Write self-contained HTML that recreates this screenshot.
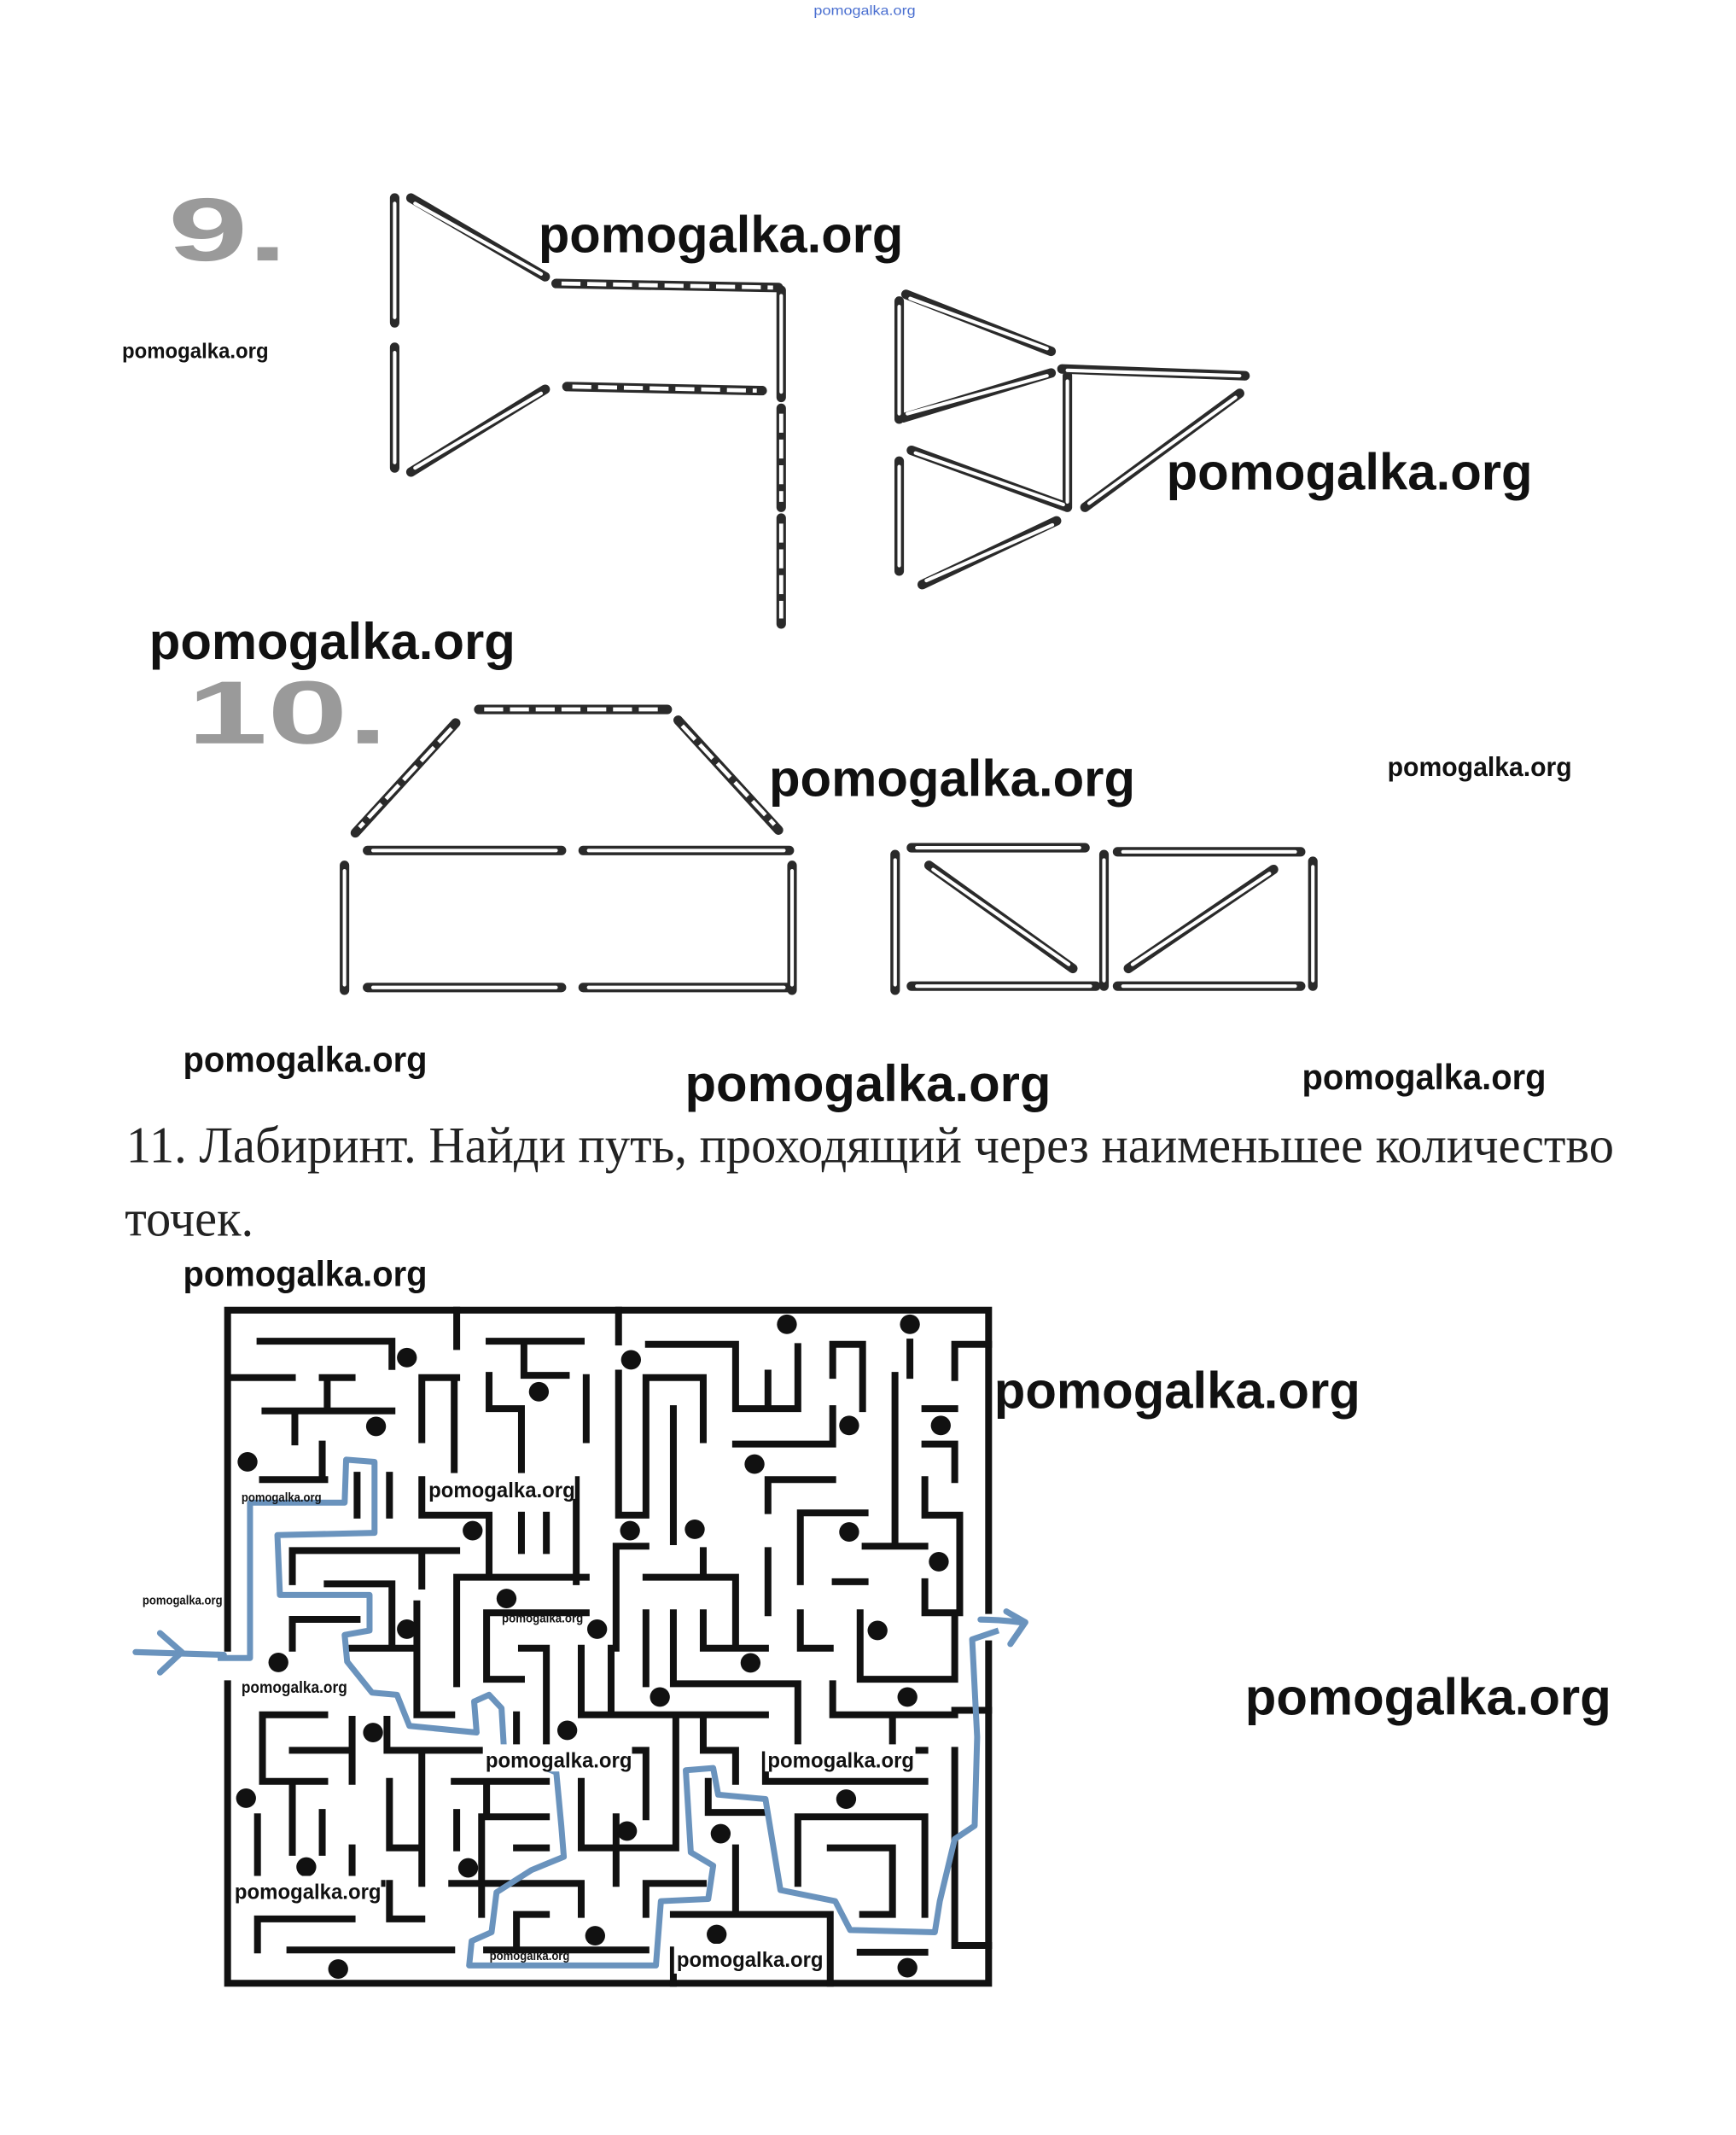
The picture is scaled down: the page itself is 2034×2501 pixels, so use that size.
<!DOCTYPE html>
<html><head><meta charset="utf-8"><style>
html,body{margin:0;padding:0;background:#fff;}
svg{display:block;}
.wm{font-family:"Liberation Sans",sans-serif;font-weight:bold;fill:#111;}
</style></head><body>
<svg width="2034" height="2501" viewBox="0 0 1280 1574" preserveAspectRatio="none" xmlns="http://www.w3.org/2000/svg">
<rect width="1280" height="1574" fill="#fff"/>
<text x="600" y="11" font-family="Liberation Sans,sans-serif" font-size="10" fill="#4a6fd0" textLength="75" lengthAdjust="spacingAndGlyphs">pomogalka.org</text>

<!-- 9. and 10. -->
<text x="124" y="192" font-family="Liberation Sans,sans-serif" font-weight="bold" font-size="66" fill="#9a9a9a" textLength="88" lengthAdjust="spacingAndGlyphs">9.</text>
<text x="138" y="548" font-family="Liberation Sans,sans-serif" font-weight="bold" font-size="66" fill="#9a9a9a" textLength="148" lengthAdjust="spacingAndGlyphs">10.</text>

<!-- matches solid -->
<g stroke-linecap="round" fill="none">
<g stroke="#2a2a2a" stroke-width="7">
<path d="M291 146L291 238M291 256L291 345M303 146L402 204M303 348L402 287M576 214L576 293
M663 222L663 309M663 340L663 421M668 217L775 259M666 308L775 275M672 332L787 374M783 272L918 277M787 277L787 374M800 374L914 290M680 431L779 384
M271 627L414 627M430 627L582 627M271 728L414 728M430 728L582 728M254 638L254 730M584 638L584 730
M672 625L800 625M824 628L959 628M672 727L808 727M824 727L959 727M660 630L660 730M814 630L814 727M968 635L968 727M685 638L791 714M832 714L939 641"/>
</g>
<g stroke="#fff" stroke-width="2.6">
<path d="M291 150L291 234M291 260L291 341M306 150L399 202M306 345L399 290M576 218L576 289
M663 226L663 305M663 344L663 417M671 220L772 257M669 305L772 277M675 334L784 372M787 273L914 277M787 281L787 370M803 371L911 293M683 428L776 387
M275 627L410 627M434 627L578 627M275 728L410 728M434 728L578 728M254 642L254 726M584 642L584 726
M676 625L796 625M828 628L955 628M676 727L804 727M828 727L955 727M660 634L660 726M814 634L814 723M968 639L968 723M688 641L788 711M835 711L936 644"/>
</g>
<!-- dashed -->
<g stroke="#2a2a2a" stroke-width="7">
<path d="M410 209L574 212M418 285L562 288M576 301L576 374M576 382L576 460M353 523L492 523M336 533L262 614M500 531L574 612"/>
</g>
<g stroke="#fff" stroke-width="3" stroke-dasharray="14 5" stroke-linecap="butt">
<path d="M414 209L570 212M422 285L558 288M576 305L576 370M576 386L576 456M357 523L488 523M333 537L265 610M503 535L571 608"/>
</g>
</g>

<!-- heading -->
<text x="93" y="857" font-family="Liberation Serif,serif" font-size="38" fill="#222" textLength="1097" lengthAdjust="spacingAndGlyphs">11. Лабиринт. Найди путь, проходящий через наименьшее количество</text>
<text x="92" y="911" font-family="Liberation Serif,serif" font-size="38" fill="#222" textLength="95" lengthAdjust="spacingAndGlyphs">точек.</text>

<!-- maze -->
<g transform="scale(0.62933) translate(255,1515) scale(0.5835,0.5198)">
<g stroke="#111" stroke-width="8" vector-effect="non-scaling-stroke" fill="none" stroke-linecap="square">
<path vector-effect="non-scaling-stroke" d="M20 800L20 38L1548 38L1548 715M1548 790L1548 1555L20 1555L20 880"/>
<path vector-effect="non-scaling-stroke" d="
M85 108L350 108L350 165M480 38L480 120M545 108L730 108M615 108L615 185L700 185M805 38L805 110
M865 115L1040 115L1040 260L1165 260M1165 120L1165 260M1235 115L1295 115M1235 115L1235 185M1295 115L1295 260M1390 110L1390 185M1480 115L1548 115M1480 115L1480 190
M30 190L150 190M210 190L270 190M220 190L220 260M95 265L350 265M155 265L155 335M410 190L480 190M410 190L410 330M475 190L475 410
M545 185L545 260L610 260M610 260L610 410M740 190L740 330M860 190L975 190M860 190L860 500L805 500M805 180L805 500M915 260L915 560M975 190L975 330
M1105 180L1105 260M1040 340L1235 340M1235 260L1235 340M1360 185L1360 560M1300 570L1420 570M1420 260L1480 260M1420 340L1480 340L1480 420
M1105 420L1235 420M1105 420L1105 490M1170 495L1300 495M1170 495L1170 650M1420 420L1420 500L1490 500L1490 720
M90 420L215 420M210 340L210 420M280 410L280 500M150 580L480 580M410 580L410 660M150 580L150 650M345 410L345 500M410 420L410 500L545 500
M545 500L545 640M480 640L740 640M480 640L480 880M660 500L660 580M610 500L610 580M720 420L720 650
M220 655L350 655L350 800M150 735L280 735M150 735L150 800M270 800L400 800M400 700L400 950L470 950
M800 570L800 800M800 570L860 570M860 640L1040 640M975 580L975 640M540 720L740 720M540 720L540 870L610 870
M610 800L660 800L660 1010M600 950L600 1030L860 1030M730 800L730 950L1100 950M790 800L790 950M860 720L860 880
M915 720L915 880L1165 880L1165 1030M975 720L975 800L1100 800M1040 640L1040 800M1105 580L1105 720M1240 650L1300 650
M1170 720L1170 800L1230 800M1290 720L1290 870L1480 870L1480 720M1420 650L1420 720L1480 720
M1235 880L1235 950L1480 950M1355 950L1355 1030M1230 1030L1420 1030M1480 940L1548 940
M90 950L215 950M90 950L90 1100M150 1030L270 1030M270 960L270 1100M90 1100L215 1100M150 1100L150 1260M210 1170L210 1260M80 1180L80 1340
M150 1330L330 1330M270 1250L270 1330M340 960L340 1030L540 1030M410 1030L410 1330M345 1100L345 1250L400 1250
M475 1100L660 1100M540 1100L540 1170M480 1170L480 1250M530 1180L660 1180M530 1180L530 1400M600 1250L660 1250M470 1330L720 1330
M730 1100L730 1250L920 1250M920 960L920 1250M860 1030L860 1180M800 1180L800 1330
M975 960L975 1030L1040 1030L1040 1100M985 1100L985 1170L1100 1170M1100 1100L1420 1100M1100 1040L1100 1100
M1165 1180L1420 1180M1165 1180L1165 1330M1230 1250L1355 1250L1355 1400L1295 1400M1420 1180L1420 1400
M1480 1030L1480 1470L1548 1470M860 1330L975 1330M860 1330L860 1400M1040 1250L1040 1400M915 1400L1230 1400L1230 1555M915 1480L915 1555
M80 1410L270 1410M80 1410L80 1480M145 1480L470 1480M345 1330L345 1410L410 1410M540 1480L860 1480M600 1400L660 1400M600 1400L600 1480M730 1330L730 1400M1290 1485L1420 1485"/>
</g>
<g fill="#111">
<ellipse cx="1143" cy="70" rx="20" ry="22"/><ellipse cx="1390" cy="70" rx="20" ry="22"/><ellipse cx="380" cy="145" rx="20" ry="22"/><ellipse cx="830" cy="150" rx="20" ry="22"/><ellipse cx="645" cy="222" rx="20" ry="22"/><ellipse cx="318" cy="300" rx="20" ry="22"/><ellipse cx="1268" cy="298" rx="20" ry="22"/><ellipse cx="1452" cy="298" rx="20" ry="22"/><ellipse cx="60" cy="380" rx="20" ry="22"/><ellipse cx="1078" cy="385" rx="20" ry="22"/><ellipse cx="512" cy="535" rx="20" ry="22"/><ellipse cx="828" cy="535" rx="20" ry="22"/><ellipse cx="958" cy="532" rx="20" ry="22"/><ellipse cx="1268" cy="538" rx="20" ry="22"/><ellipse cx="1448" cy="605" rx="20" ry="22"/><ellipse cx="580" cy="688" rx="20" ry="22"/><ellipse cx="380" cy="757" rx="20" ry="22"/><ellipse cx="762" cy="757" rx="20" ry="22"/><ellipse cx="1325" cy="760" rx="20" ry="22"/><ellipse cx="122" cy="832" rx="20" ry="22"/><ellipse cx="1070" cy="833" rx="20" ry="22"/><ellipse cx="888" cy="910" rx="20" ry="22"/><ellipse cx="1385" cy="910" rx="20" ry="22"/><ellipse cx="312" cy="990" rx="20" ry="22"/><ellipse cx="702" cy="985" rx="20" ry="22"/><ellipse cx="57" cy="1138" rx="20" ry="22"/><ellipse cx="1262" cy="1140" rx="20" ry="22"/><ellipse cx="822" cy="1212" rx="20" ry="22"/><ellipse cx="1010" cy="1218" rx="20" ry="22"/><ellipse cx="178" cy="1293" rx="20" ry="22"/><ellipse cx="503" cy="1295" rx="20" ry="22"/><ellipse cx="758" cy="1448" rx="20" ry="22"/><ellipse cx="1002" cy="1445" rx="20" ry="22"/><ellipse cx="242" cy="1523" rx="20" ry="22"/><ellipse cx="1385" cy="1520" rx="20" ry="22"/>
</g>
<path vector-effect="non-scaling-stroke" fill="none" stroke="#6a93bd" stroke-width="7" stroke-linejoin="round" d="M0 822L65 822L65 472L255 472L258 375L315 380L315 540L120 545L125 680L305 680L305 760L255 770L260 830L310 900L360 905L385 975L520 990L515 920L545 905L570 935L575 1030L680 1080L690 1200L695 1270L630 1300L560 1350L550 1440L510 1460L505 1515L880 1515L890 1370L985 1365L995 1290L950 1260L940 1075L995 1070L1005 1130L1100 1140L1130 1345L1240 1370L1270 1435L1440 1440L1450 1370L1480 1230L1520 1200L1525 1000L1515 780L1568 760"/>
</g>
<!-- arrows outside maze -->
<g fill="none" stroke="#6a93bd" stroke-width="4.5" stroke-linecap="round" stroke-linejoin="round">
<path d="M100 1218L165 1220"/>
<path d="M118 1204L134 1218L118 1233"/>
<path d="M723 1194Q735 1194 752 1196"/>
<path d="M742 1188L756 1196L745 1212"/>
</g>

<!-- maze watermarks -->
<g class="wm" font-weight="normal">
<rect x="314" y="1086" width="110" height="19" fill="#fff"/>
<text x="316" y="1104" font-size="16" textLength="108" lengthAdjust="spacingAndGlyphs">pomogalka.org</text>
<text x="178" y="1107" font-size="9" textLength="59" lengthAdjust="spacingAndGlyphs">pomogalka.org</text>
<text x="105" y="1183" font-size="9" textLength="59" lengthAdjust="spacingAndGlyphs">pomogalka.org</text>
<text x="370" y="1196" font-size="9" textLength="60" lengthAdjust="spacingAndGlyphs">pomogalka.org</text>
<rect x="176" y="1236" width="82" height="14" fill="#fff"/>
<text x="178" y="1248" font-size="12" textLength="78" lengthAdjust="spacingAndGlyphs">pomogalka.org</text>
<rect x="356" y="1286" width="110" height="20" fill="#fff"/>
<text x="358" y="1303" font-size="16" textLength="108" lengthAdjust="spacingAndGlyphs">pomogalka.org</text>
<rect x="564" y="1286" width="111" height="20" fill="#fff"/>
<text x="566" y="1303" font-size="16" textLength="108" lengthAdjust="spacingAndGlyphs">pomogalka.org</text>
<rect x="171" y="1383" width="110" height="20" fill="#fff"/>
<text x="173" y="1400" font-size="16" textLength="108" lengthAdjust="spacingAndGlyphs">pomogalka.org</text>
<text x="361" y="1445" font-size="9" textLength="59" lengthAdjust="spacingAndGlyphs">pomogalka.org</text>
<rect x="497" y="1433" width="111" height="22" fill="#fff"/>
<text x="499" y="1450" font-size="16" textLength="108" lengthAdjust="spacingAndGlyphs">pomogalka.org</text>
</g>

<!-- big watermarks -->
<g class="wm">
<text x="397" y="186" font-size="38" textLength="269" lengthAdjust="spacingAndGlyphs">pomogalka.org</text>
<text x="90" y="264" font-size="16" textLength="108" lengthAdjust="spacingAndGlyphs">pomogalka.org</text>
<text x="860" y="361" font-size="38" textLength="270" lengthAdjust="spacingAndGlyphs">pomogalka.org</text>
<text x="110" y="486" font-size="38" textLength="270" lengthAdjust="spacingAndGlyphs">pomogalka.org</text>
<text x="567" y="587" font-size="38" textLength="270" lengthAdjust="spacingAndGlyphs">pomogalka.org</text>
<text x="1023" y="572" font-size="20" textLength="136" lengthAdjust="spacingAndGlyphs">pomogalka.org</text>
<text x="135" y="790" font-size="26" textLength="180" lengthAdjust="spacingAndGlyphs">pomogalka.org</text>
<text x="505" y="812" font-size="38" textLength="270" lengthAdjust="spacingAndGlyphs">pomogalka.org</text>
<text x="960" y="803" font-size="26" textLength="180" lengthAdjust="spacingAndGlyphs">pomogalka.org</text>
<text x="135" y="948" font-size="26" textLength="180" lengthAdjust="spacingAndGlyphs">pomogalka.org</text>
<text x="733" y="1038" font-size="38" textLength="270" lengthAdjust="spacingAndGlyphs">pomogalka.org</text>
<text x="918" y="1264" font-size="38" textLength="270" lengthAdjust="spacingAndGlyphs">pomogalka.org</text>
</g>
</svg>
</body></html>
